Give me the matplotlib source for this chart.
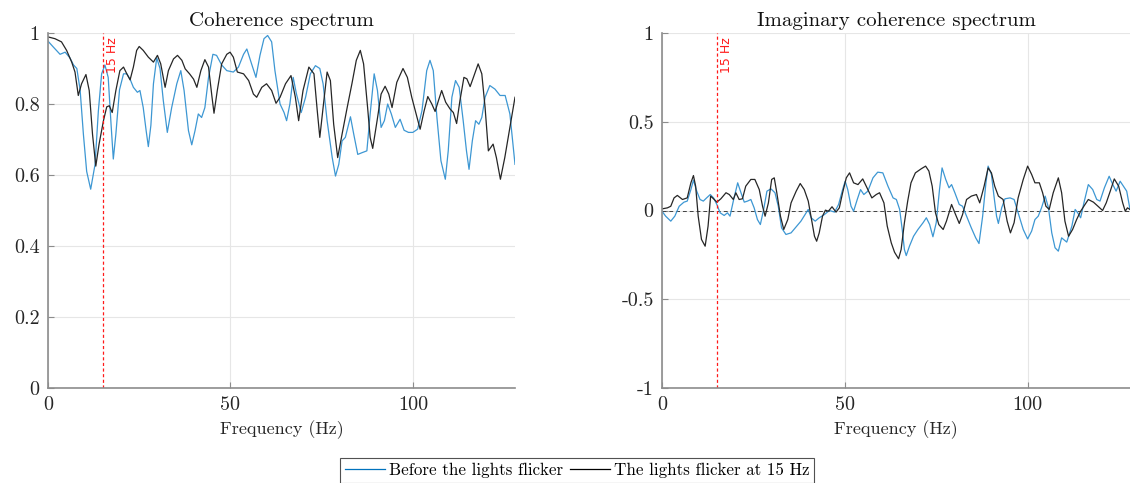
import matplotlib
matplotlib.use("Agg")
import matplotlib.pyplot as plt
from matplotlib.lines import Line2D

# ---------------- data ----------------
coh_before_f = [0, 1.5, 3.3, 4.7, 6, 7, 7.9, 8.8, 9.7, 10.6, 11.7, 12.9, 13.8, 14.7, 15.6, 16.5, 17.3, 17.9,
                18.6, 19.6, 20.7, 21.6, 22.5, 23.4, 24.5, 25.2, 26.1, 26.9, 27.5, 28.2, 28.9, 29.8, 30.7,
                31.6, 32.7, 33.9, 35.3, 36.4, 37.3, 38.5, 39.4, 40.3, 41.2, 42.1, 43, 44, 45.2, 46.2, 47.6,
                49, 50.8, 52.2, 53.6, 54.5, 55.8, 57, 58.1, 59.2, 60.2, 61.3, 62.2, 63.6, 64.7, 65.4, 66.3,
                67.2, 68.1, 69.4, 70.6, 71.9, 73.3, 74.5, 75.4, 76.5, 77.9, 78.8, 79.7, 80.6, 81.5, 82.9,
                83.8, 84.9, 86.1, 87.4, 88.3, 89.4, 90.3, 91.3, 92.2, 93.1, 94.1, 95.2, 96.5, 97.6, 98.8,
                100, 101.3, 102.5, 103.8, 104.7, 105.6, 106.6, 107.7, 108.9, 109.7, 110.7, 111.7, 112.7,
                113.8, 114.7, 115.4, 116.3, 117.2, 118.1, 118.9, 119.8, 121.1, 122.5, 123.9, 125.3, 126.6, 128]
coh_before_v = [0.977, 0.96, 0.94, 0.946, 0.93, 0.91, 0.90, 0.84, 0.715, 0.61, 0.56, 0.63, 0.78, 0.885, 0.91,
                0.875, 0.74, 0.645, 0.715, 0.84, 0.885, 0.885, 0.87, 0.847, 0.833, 0.838, 0.79, 0.725, 0.68,
                0.74, 0.857, 0.93, 0.90, 0.81, 0.72, 0.79, 0.857, 0.894, 0.838, 0.725, 0.685, 0.725, 0.772,
                0.762, 0.79, 0.875, 0.94, 0.937, 0.91, 0.894, 0.89, 0.904, 0.94, 0.955, 0.913, 0.875, 0.937,
                0.984, 0.993, 0.975, 0.894, 0.80, 0.776, 0.753, 0.80, 0.875, 0.828, 0.776, 0.819, 0.885,
                0.908, 0.90, 0.857, 0.753, 0.649, 0.597, 0.63, 0.696, 0.706, 0.764, 0.715, 0.658, 0.663,
                0.668, 0.772, 0.885, 0.838, 0.734, 0.753, 0.80, 0.772, 0.734, 0.757, 0.726, 0.72, 0.72,
                0.729, 0.781, 0.894, 0.923, 0.894, 0.762, 0.64, 0.588, 0.668, 0.819, 0.866, 0.847, 0.753,
                0.668, 0.616, 0.696, 0.753, 0.743, 0.762, 0.819, 0.852, 0.842, 0.824, 0.824, 0.772, 0.63]

coh_flicker_f = [0, 1.9, 3.7, 5.1, 6.5, 7.4, 8.3, 9.2, 10.4, 11.3, 12.2, 13.1, 14, 15.2, 16.1, 16.8, 17.6,
                 18.6, 19.7, 20.7, 21.6, 22.5, 23.4, 24.3, 25, 26.1, 27.5, 28.9, 30, 30.9, 32.1, 33, 34.4,
                 35.5, 36.7, 37.6, 38.8, 39.9, 40.8, 41.9, 43, 44, 44.9, 45.5, 46.4, 47.6, 49, 49.9, 50.8,
                 51.9, 53.6, 55, 56.3, 57.2, 58.6, 59.9, 61.3, 62.5, 63.6, 65.1, 66.6, 67.8, 68.7, 69.9,
                 71.5, 72.9, 73.8, 74.5, 75.4, 76.5, 77.4, 78.3, 79.4, 80.6, 82, 83.3, 84.5, 85.6, 86.5,
                 87.6, 88.3, 89, 90.2, 91.3, 92.4, 93.4, 94.3, 95.6, 97.3, 98.5, 99.7, 100.9, 102, 103.1,
                 104.1, 105.2, 106.1, 107, 107.9, 109, 110.2, 111.1, 112, 112.9, 114, 114.8, 115.7, 116.6,
                 117.9, 118.9, 119.8, 120.7, 122, 122.9, 124, 125.2, 126.6, 128]
coh_flicker_v = [0.989, 0.984, 0.975, 0.951, 0.918, 0.89, 0.824, 0.857, 0.883, 0.838, 0.715, 0.625, 0.687,
                 0.753, 0.792, 0.795, 0.776, 0.838, 0.894, 0.904, 0.885, 0.868, 0.904, 0.951, 0.962, 0.951,
                 0.932, 0.918, 0.937, 0.913, 0.847, 0.894, 0.927, 0.937, 0.923, 0.899, 0.885, 0.87, 0.847,
                 0.894, 0.925, 0.904, 0.824, 0.774, 0.838, 0.913, 0.94, 0.946, 0.932, 0.89, 0.885, 0.866,
                 0.828, 0.819, 0.847, 0.857, 0.838, 0.802, 0.819, 0.857, 0.88, 0.819, 0.753, 0.838, 0.904,
                 0.885, 0.781, 0.706, 0.79, 0.89, 0.866, 0.743, 0.649, 0.715, 0.79, 0.857, 0.923, 0.951,
                 0.913, 0.79, 0.706, 0.675, 0.753, 0.828, 0.85, 0.828, 0.79, 0.861, 0.90, 0.875, 0.819,
                 0.772, 0.729, 0.781, 0.821, 0.80, 0.779, 0.809, 0.838, 0.805, 0.786, 0.776, 0.745, 0.809,
                 0.875, 0.871, 0.849, 0.875, 0.913, 0.885, 0.79, 0.668, 0.687, 0.649, 0.588, 0.649, 0.734,
                 0.819]

icoh_before_f = [0, 1, 2.4, 3.5, 4.7, 6, 6.9, 7.9, 8.6, 9.5, 10.4, 11.3, 12.2, 13.2, 14.1, 15, 15.9, 17,
                 17.9, 18.6, 19.6, 20.7, 21.6, 22.5, 23.4, 24.3, 25.2, 26.1, 26.9, 27.8, 28.7, 29.8, 30.9,
                 31.8, 32.7, 33.9, 35.3, 36.7, 38, 39.4, 40, 40.8, 41.9, 43, 44.4, 45.8, 47.2, 48.3, 49.4,
                 50.1, 50.8, 51.7, 52.4, 53.4, 54.3, 55.2, 56.3, 57.7, 59, 60.4, 61.8, 63.2, 64.1, 65, 65.7,
                 66.3, 66.8, 67.7, 68.8, 70, 71.4, 72.3, 73.2, 74.1, 75, 75.9, 76.6, 77.6, 78.5, 79.2, 80.1,
                 81.3, 82.2, 83.3, 84.6, 85.8, 86.7, 87.7, 88.6, 89.2, 90.1, 90.8, 91.5, 92, 92.9, 93.8,
                 95.2, 96.3, 97.4, 98.8, 100, 101.1, 102, 102.9, 103.8, 104.8, 105.7, 106.6, 107.5, 108.4,
                 109.3, 110.7, 112.1, 113, 113.7, 114.5, 115.4, 116.6, 117.8, 118.9, 119.8, 121, 122.3,
                 123.3, 124.2, 125.3, 126.2, 127.1, 128]
icoh_before_v = [-0.004, -0.032, -0.06, -0.032, 0.024, 0.047, 0.053, 0.118, 0.171, 0.109, 0.062, 0.053,
                 0.071, 0.09, 0.071, 0.034, -0.013, -0.028, -0.013, -0.032, 0.062, 0.156, 0.10, 0.047, 0.053,
                 0.062, 0.015, -0.051, -0.079, 0.006, 0.109, 0.122, 0.10, 0.024, -0.098, -0.135, -0.126,
                 -0.092, -0.06, -0.013, 0.006, -0.041, -0.06, -0.041, -0.023, 0.0, -0.009, 0.034, 0.118,
                 0.165, 0.118, 0.024, -0.004, 0.062, 0.118, 0.09, 0.109, 0.184, 0.216, 0.212, 0.137, 0.071,
                 0.062, 0.006, -0.107, -0.22, -0.254, -0.20, -0.145, -0.107, -0.069, -0.041, -0.079, -0.148,
                 -0.069, 0.118, 0.24, 0.175, 0.128, 0.146, 0.10, 0.034, 0.024, -0.032, -0.098, -0.154,
                 -0.186, -0.032, 0.156, 0.25, 0.203, 0.081, -0.032, -0.073, 0.015, 0.066, 0.071, 0.062,
                 -0.013, -0.107, -0.16, -0.116, -0.051, -0.032, 0.015, 0.081, 0.015, -0.126, -0.21, -0.229,
                 -0.154, -0.178, -0.088, 0.006, -0.013, -0.041, 0.043, 0.146, 0.118, 0.062, 0.053, 0.128,
                 0.193, 0.146, 0.109, 0.165, 0.137, 0.109, 0.006]

icoh_flicker_f = [0, 1.5, 2.4, 3.3, 4.2, 5.6, 6.9, 7.9, 8.6, 9.2, 9.9, 10.8, 11.8, 12.6, 13.3, 14.3, 15,
                  16.1, 17.5, 18.4, 19.5, 20.2, 21.1, 22, 22.9, 24.3, 25.4, 26.6, 27.5, 28.2, 29.1, 30, 30.7,
                  31.4, 32.4, 33.3, 34.4, 35.3, 36.7, 37.8, 38.9, 40, 40.9, 41.7, 42.3, 43, 43.9, 44.7, 45.5,
                  46.5, 47.6, 48.5, 49.4, 50.4, 51.3, 52.4, 53.6, 54.9, 56.3, 57.4, 58.6, 59.5, 60.7, 61.6,
                  62.7, 63.6, 64.7, 65.4, 66.3, 67.2, 68.1, 69.3, 70.9, 72.1, 73, 73.9, 74.8, 75.7, 76.9,
                  77.8, 79.2, 80.1, 81.3, 82.2, 83.3, 84.6, 86, 86.9, 88.1, 89.2, 90.1, 91, 92, 93.3, 94.4,
                  95.3, 96.3, 97.4, 98.8, 100, 101.1, 102, 103.2, 104.1, 105, 105.9, 107, 108.4, 109.3,
                  110.2, 111.2, 112.3, 113.4, 114.5, 115.7, 116.6, 118, 119.4, 120.5, 121.5, 122.6, 123.7,
                  124.9, 126, 126.7, 127.3, 128]
icoh_flicker_v = [0.009, 0.015, 0.024, 0.071, 0.085, 0.062, 0.071, 0.156, 0.197, 0.137, -0.032, -0.163,
                  -0.201, -0.088, 0.081, 0.062, 0.047, 0.066, 0.10, 0.09, 0.062, 0.10, 0.062, 0.066, 0.137,
                  0.175, 0.175, 0.118, 0.024, -0.032, 0.043, 0.175, 0.184, 0.10, -0.032, -0.107, -0.051,
                  0.043, 0.109, 0.152, 0.118, 0.053, -0.051, -0.145, -0.173, -0.126, -0.032, 0.002, -0.004,
                  0.021, -0.009, 0.015, 0.10, 0.184, 0.212, 0.156, 0.146, 0.178, 0.118, 0.071, 0.09, 0.10,
                  0.043, -0.088, -0.182, -0.235, -0.272, -0.22, -0.069, 0.053, 0.156, 0.212, 0.235, 0.25,
                  0.222, 0.137, -0.013, -0.079, -0.107, -0.06, 0.034, -0.013, -0.073, -0.023, 0.062, 0.081,
                  0.09, 0.043, 0.137, 0.24, 0.212, 0.137, 0.081, 0.062, -0.06, -0.126, -0.069, 0.071, 0.175,
                  0.25, 0.203, 0.156, 0.156, 0.10, 0.024, 0.006, 0.10, 0.184, 0.10, -0.06, -0.145, -0.107,
                  -0.051, -0.004, 0.034, 0.062, 0.047, 0.021, 0.0, 0.043, 0.109, 0.178, 0.137, 0.043, -0.004,
                  0.015, 0.006]

flicker_hz = 15
xticks = [0, 50, 100]
left_yticks = [0, 0.2, 0.4, 0.6, 0.8, 1]
left_yticklabels = ["0", "0.2", "0.4", "0.6", "0.8", "1"]
right_yticks = [-1, -0.5, 0, 0.5, 1]
right_yticklabels = ["-1", "-0.5", "0", "0.5", "1"]
titles = ["Coherence spectrum", "Imaginary coherence spectrum"]
legend_labels = ["Before the lights flicker", "The lights flicker at 15 Hz"]

# ---------------- style ----------------
SERIF = "cmr10"
BLUE = "#3d97d3"
DARK = "#262626"
plt.rcParams["font.family"] = [SERIF, "DejaVu Serif"]
plt.rcParams["axes.unicode_minus"] = False
plt.rcParams["lines.solid_joinstyle"] = "round"

fig = plt.figure(figsize=(11.3, 4.83), dpi=100)
ax1 = fig.add_axes([48 / 1130, 1 - 388 / 483, 467 / 1130, 355 / 483])
ax2 = fig.add_axes([662 / 1130, 1 - 388 / 483, 468 / 1130, 355 / 483])


def style(ax, yticks, ylabels, ylim, title):
    ax.set_xlim(0, 128)
    ax.set_ylim(*ylim)
    ax.set_xticks(xticks)
    ax.set_xticklabels([str(t) for t in xticks])
    ax.set_yticks(yticks)
    ax.set_yticklabels(ylabels)
    ax.grid(True, color="#e6e6e6", lw=0.8)
    ax.set_axisbelow(True)
    for s in ["top", "right"]:
        ax.spines[s].set_visible(False)
    for s in ["left", "bottom"]:
        ax.spines[s].set_color("#8c8c8c")
        ax.spines[s].set_linewidth(1.2)
    ax.tick_params(direction="in", length=4, width=0.8, color="#8c8c8c",
                   labelsize=14.5, labelcolor="#262626", pad=6)
    ax.set_title(title, fontsize=15, color="#111111", pad=5)
    ax.set_xlabel("Frequency (Hz)", fontsize=13, color="#262626", labelpad=4)


style(ax1, left_yticks, left_yticklabels, (0, 1), titles[0])
style(ax2, right_yticks, right_yticklabels, (-1, 1), titles[1])

ax1.plot(coh_before_f, coh_before_v, color=BLUE, lw=0.9)
ax1.plot(coh_flicker_f, coh_flicker_v, color=DARK, lw=0.9)
ax2.axhline(0, color="#404040", lw=0.7, ls=(0, (4, 3)))
ax2.plot(icoh_before_f, icoh_before_v, color=BLUE, lw=0.9)
ax2.plot(icoh_flicker_f, icoh_flicker_v, color=DARK, lw=0.9)

for ax in (ax1, ax2):
    ax.axvline(flicker_hz, color="#ff1a1a", lw=0.9, ls=(0, (2.5, 2)))
    lo, hi = ax.get_ylim()
    ax.text(flicker_hz + 1.0, lo + (hi - lo) * 0.988, "15 Hz", rotation=90, color="#ff1a1a",
            fontsize=9, family="DejaVu Sans", ha="left", va="top")

handles = [Line2D([], [], color="#0072BD", lw=0.9), Line2D([], [], color="black", lw=0.9)]
leg = fig.legend(handles, legend_labels, loc="upper center", ncol=2,
                 bbox_to_anchor=(577 / 1130, 1 - 458 / 483), fontsize=12.2,
                 frameon=True, fancybox=False, edgecolor="#262626", handlelength=2.4,
                 handletextpad=0.2, columnspacing=0.4, borderpad=0.3, borderaxespad=0)
leg.get_frame().set_linewidth(0.8)

fig.savefig("out.png", dpi=100)
